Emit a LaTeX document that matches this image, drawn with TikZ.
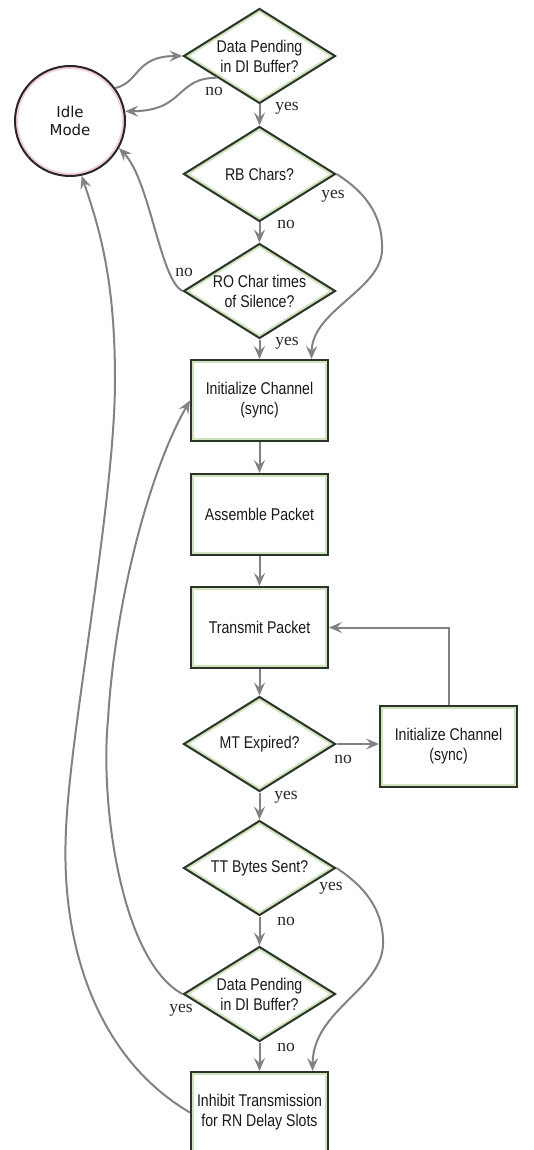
\documentclass[tikz,border=0pt]{standalone}
\usepackage{fontspec}
\usepackage{tikz}
\usetikzlibrary{positioning}
\usetikzlibrary{arrows.meta}
\usetikzlibrary{shapes.geometric}
\definecolor{boxline}{HTML}{2A3528}
\definecolor{boxband}{HTML}{CFE3BE}
\definecolor{idleline}{HTML}{2B2426}
\definecolor{idleband}{HTML}{F0D2D8}
\definecolor{flowgray}{HTML}{828282}
\newfontfamily\boxfont{Liberation Sans}[FakeStretch=0.83]
\newfontfamily\idlefont{DejaVu Sans}
\newfontfamily\lblfont{Liberation Serif}

\tikzset{
  process/.style={rectangle, draw=boxline, line width=2pt, fill=white,
    minimum width=137pt, minimum height=81pt, inner sep=0pt, align=center,
    text=black!90, font=\boxfont\fontsize{17}{20}\selectfont,
    path picture={\draw[boxband, line width=6pt]
      (path picture bounding box.south west) rectangle (path picture bounding box.north east);}},
  decision/.style={diamond, aspect=1.6, draw=boxline, line width=2pt, fill=white,
    minimum width=152pt, minimum height=95pt, inner sep=0pt, align=center,
    text=black!90, font=\boxfont\fontsize{17}{20}\selectfont,
    path picture={\draw[boxband, line width=6pt]
      (path picture bounding box.west) -- (path picture bounding box.north)
      -- (path picture bounding box.east) -- (path picture bounding box.south) -- cycle;}},
  idlestate/.style={circle, draw=idleline, line width=2pt, fill=white,
    minimum size=110pt, inner sep=0pt, align=center,
    text=black!90, font=\idlefont\fontsize{15}{18}\selectfont,
    path picture={\draw[idleband, line width=6pt]
      (path picture bounding box.center) circle[radius=55pt];}},
  flow/.style={draw=flowgray, line width=2pt,
    -{Stealth[length=13pt,width=11pt,inset=5pt]}},
  lbl/.style={inner sep=0pt, text=black!85, font=\lblfont\fontsize{17.5}{20}\selectfont}
}

\begin{document}
\begin{tikzpicture}[x=1pt,y=-1pt]

  \useasboundingbox (0,0) rectangle (533,1150);
  \clip (0,0) rectangle (533,1150);

  \node[idlestate] (idle) at (70,121) {Idle\\Mode};

  \node[decision] (pend) at (259.5,56) {Data Pending\\in DI Buffer?};
  \node[decision] (rb) at (259.5,174) {RB Chars?};
  \node[decision] (ro) at (259.5,291) {RO Char times\\of Silence?};
  \node[process] (init) at (259.5,400.5) {Initialize Channel\\(sync)};
  \node[process] (asm) at (259.5,514.5) {Assemble Packet};
  \node[process] (tx) at (259.5,627.5) {Transmit Packet};
  \node[decision] (mt) at (259.5,744) {MT Expired?};
  \node[process] (reinit) at (448.5,746.5) {Initialize Channel\\(sync)};
  \node[decision] (tt) at (259.5,868) {TT Bytes Sent?};
  \node[decision] (pend2) at (259.5,994) {Data Pending\\in DI Buffer?};
  \node[process] (inhibit) at (259.5,1112.5) {Inhibit Transmission\\for RN Delay Slots};

  \draw[flow] (idle.36) .. controls (140,82) and (135,56) .. (pend.west);
  \draw[flow] (pend.-153) .. controls (175,78) and (185,111) .. (idle.10);
  \draw[flow] (pend.south) -- (rb.north);
  \draw[flow] (rb.south) -- (ro.north);
  \draw[flow] (rb.east) .. controls (370,195) and (383,220) .. (382,250)
    .. controls (381,290) and (312,310) .. ([xshift=52pt]init.north);
  \draw[flow] (ro.west) .. controls (160,280) and (150,180) .. (idle.-29);
  \draw[flow] (ro.south) -- (init.north);
  \draw[flow] (init.south) -- (asm.north);
  \draw[flow] (asm.south) -- (tx.north);
  \draw[flow] (tx.south) -- (mt.north);
  \draw[flow] (mt.east) -- (mt.east -| reinit.west);
  \draw[flow] (reinit.north) |- (tx.east);
  \draw[flow] (mt.south) -- (tt.north);
  \draw[flow] (tt.east) .. controls (370,890) and (384,915) .. (383,945)
    .. controls (381,990) and (313,1010) .. ([xshift=53pt]inhibit.north);
  \draw[flow] (tt.south) -- (pend2.north);
  \draw[flow] (pend2.west) .. controls (120,960) and (100,800) .. (108,720)
    .. controls (115,600) and (150,470) .. (init.west);
  \draw[flow] (pend2.south) -- (inhibit.north);
  \draw[flow] (inhibit.west) .. controls (100,1060) and (60,950) .. (66,830)
    .. controls (70,730) and (115,500) .. (115,380)
    .. controls (115,280) and (100,230) .. (idle.-78);

  \node[lbl] (yes1) at (287,108) {yes};
  \node[lbl] (no1) at (214,91) {no};
  \node[lbl] (yes2) at (333,196) {yes};
  \node[lbl] (no2) at (286,224) {no};
  \node[lbl] (no3) at (184,272) {no};
  \node[lbl] (yes3) at (287,343) {yes};
  \node[lbl] (no4) at (343,759) {no};
  \node[lbl] (yes4) at (286,797) {yes};
  \node[lbl] (yes5) at (331,888) {yes};
  \node[lbl] (no5) at (286,921) {no};
  \node[lbl] (yes6) at (181,1010) {yes};
  \node[lbl] (no6) at (286,1047) {no};

\end{tikzpicture}
\end{document}
